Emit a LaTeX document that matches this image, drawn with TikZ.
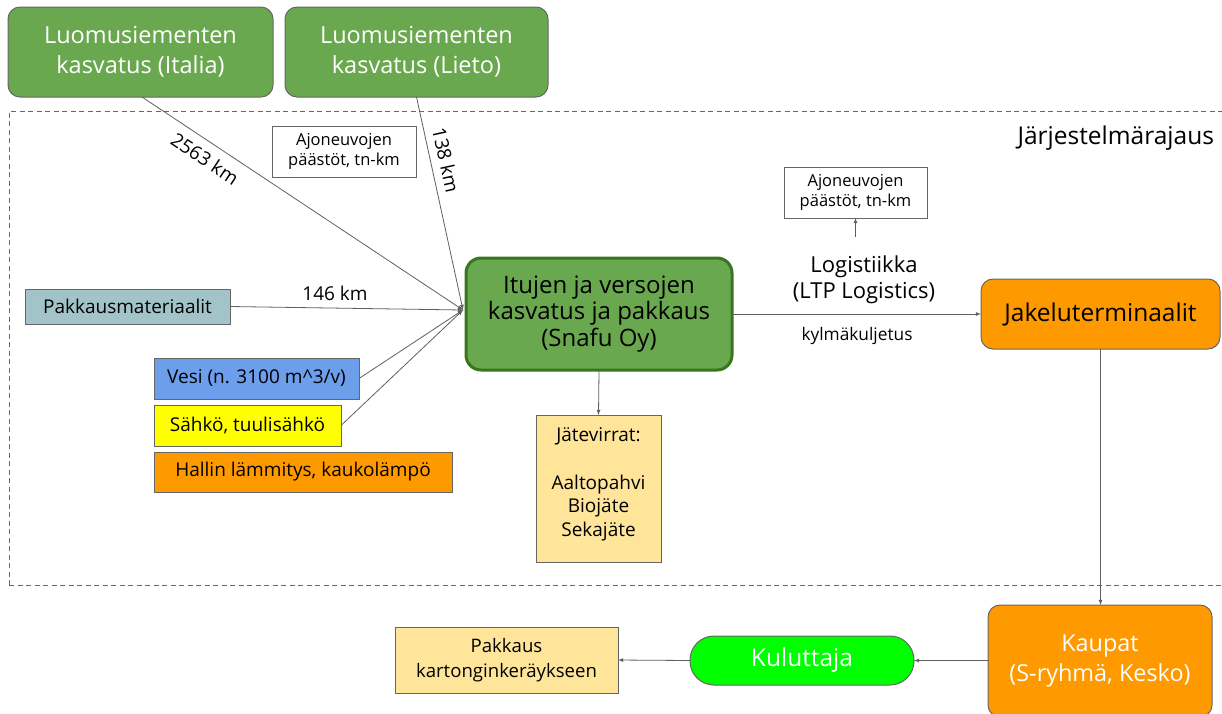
\documentclass[tikz,border=0pt]{standalone}
\usepackage{fontspec}
\setmainfont{Open Sans}
\usetikzlibrary{arrows}
\usetikzlibrary{positioning}
\definecolor{leaf}{HTML}{6AA84F}
\definecolor{darkleaf}{HTML}{38761D}
\definecolor{pack}{HTML}{A2C4C9}
\definecolor{water}{HTML}{6D9EEB}
\definecolor{power}{HTML}{FFFF00}
\definecolor{heat}{HTML}{FF9900}
\definecolor{waste}{HTML}{FFE599}
\definecolor{lime}{HTML}{00FF00}
\definecolor{edge}{HTML}{666666}
\definecolor{wire}{HTML}{5F5F5F}
\newcommand*{\bigfont}{\fontsize{23.5}{30}\selectfont}
\newcommand*{\midfont}{\fontsize{19}{23.5}\selectfont}
\newcommand*{\smallfont}{\fontsize{16.5}{20}\selectfont}
\tikzstyle{base}=[x=1pt, y=-1pt, inner sep=0pt, outer sep=0pt]
\tikzstyle{box}=[draw=edge, line width=1pt, align=center, inner sep=0pt]
\tikzstyle{soft}=[box, rounded corners=12pt]
\tikzstyle{flow}=[draw=wire, line width=0.8pt, -latex]

\begin{document}
\begin{tikzpicture}[base]
    \path [use as bounding box] (0,0) rectangle (1222,713);
        \draw [edge, line width=0.9pt, dash pattern=on 5pt off 3.5pt] (9,585) -- (9,111) -- (1222,111);
        \draw [edge, line width=0.9pt, dash pattern=on 5pt off 3.5pt] (9,585) -- (1222,585);
        \node [anchor=east, font=\fontsize{24.5}{28}\selectfont] (scope) at (1214,138) {Järjestelmärajaus};

        \node [soft, fill=leaf, text=white, font=\bigfont, minimum width=265pt, minimum height=90pt] (italia) at (140.5,52) {Luomusiementen\\kasvatus (Italia)};
        \node [soft, fill=leaf, text=white, font=\bigfont, minimum width=263pt, minimum height=90pt] (lieto) at (416.5,52) {Luomusiementen\\kasvatus (Lieto)};

        \node [soft, draw=darkleaf, line width=3pt, rounded corners=15pt, fill=leaf, font=\fontsize{24}{26.5}\selectfont, minimum width=266pt, minimum height=112pt] (snafu) at (599,314) {Itujen ja versojen\\kasvatus ja pakkaus\\(Snafu Oy)};
        \coordinate (hub) at (463,310);

        \node [box, fill=white, font=\smallfont, minimum width=144pt, minimum height=51pt] (cars) at (344,151.5) {Ajoneuvojen\\päästöt, tn-km};
        \node [box, fill=pack, font=\midfont, minimum width=205pt, minimum height=35pt] (packing) at (127.5,306.5) {Pakkausmateriaalit};
        \node [box, fill=water, font=\midfont, minimum width=205pt, minimum height=41pt] (water) at (256.5,378.5) {Vesi (n. 3100 m\textasciicircum 3/v)};
        \node [box, fill=power, font=\midfont, minimum width=187pt, minimum height=41pt] (power) at (247.5,425.5) {Sähkö, tuulisähkö};
        \node [box, fill=heat, font=\midfont, minimum width=298pt, minimum height=40pt] (heat) at (303,472) {Hallin lämmitys, kaukolämpö};

        \draw [flow] (italia.south) ++(1.5,0) -- (hub);
        \draw [flow] (lieto.south) -- (hub);
        \draw [flow] (packing.east) -- (hub);
        \draw [flow] (water.east) -- (hub);
        \draw [flow] (power.east) -- (hub);
        \node [rotate=-33.5, font=\midfont] (farlbl) at (205,159) {2563 km};
        \node [rotate=-77.5, font=\midfont] (nearlbl) at (446,160) {138 km};
        \node [font=\midfont] (packlbl) at (335,293) {146 km};

        \node [box, fill=waste, minimum width=125pt, minimum height=147pt, anchor=north] (waste) at (598.5,415) {};
        \node [font=\midfont, align=center, anchor=north] (wastetxt) at (598.5,428) {Jätevirrat:\\[24pt]Aaltopahvi\\Biojäte\\Sekajäte};
        \draw [flow] (snafu.south) -- (waste.north);

        \node [soft, fill=heat, font=\fontsize{24.5}{28}\selectfont, minimum width=239pt, minimum height=70pt] (terminal) at (1100.5,314) {Jakeluterminaalit};
        \draw [flow] (snafu.east) -- (terminal.west);
        \node [align=center, font=\fontsize{22}{26}\selectfont] (logistics) at (864,280) {Logistiikka\\(LTP Logistics)};
        \node [font=\fontsize{17.3}{20}\selectfont] (cold) at (857,336) {kylmäkuljetus};
        \node [box, fill=white, font=\smallfont, minimum width=143pt, minimum height=51pt] (cars2) at (855.5,192.5) {Ajoneuvojen\\päästöt, tn-km};
        \coordinate (lift) at (855.5,237);
        \draw [flow] (lift) -- (cars2.south);

        \node [soft, fill=heat, text=white, font=\fontsize{23.4}{30}\selectfont, minimum width=224pt, minimum height=112pt] (shops) at (1100,661) {Kaupat\\(S-ryhmä, Kesko)};
        \draw [flow] (terminal.south) -- (terminal.south |- shops.north);
        \node [box, fill=lime, text=white, rounded corners=24pt, font=\fontsize{24.5}{28}\selectfont, minimum width=224pt, minimum height=49pt] (consumer) at (802,660.5) {Kuluttaja};
        \draw [flow] (shops.west |- consumer.east) -- (consumer.east);
        \node [box, fill=waste, font=\fontsize{18.6}{25}\selectfont, minimum width=223pt, minimum height=66pt] (recycle) at (506.5,660) {Pakkaus\\kartonginkeräykseen};
        \draw [flow] (consumer.west) -- (recycle.east);
    \end{tikzpicture}
\end{document}
